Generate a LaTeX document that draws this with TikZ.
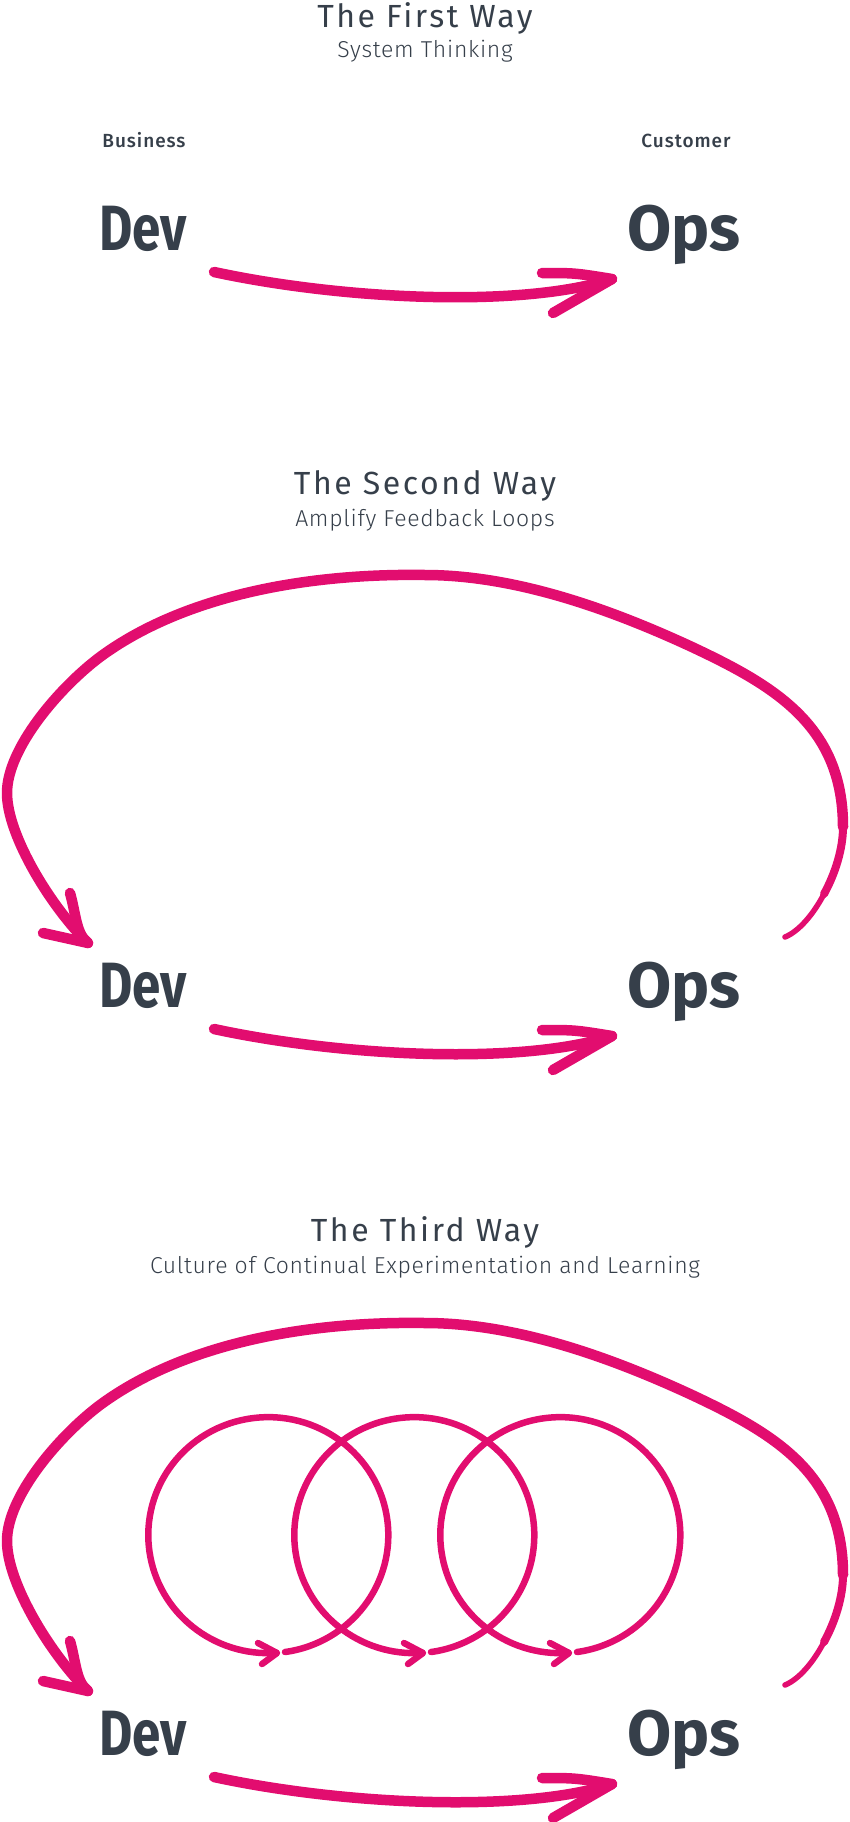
\documentclass[tikz,border=0pt]{standalone}
\usepackage{fontspec}
\setmainfont{Fira Sans}
\newfontfamily\titlefont{Fira Sans}[LetterSpace=8]
\newfontfamily\labelfont{Fira Sans Medium}[LetterSpace=5]
\newfontfamily\subfont{Fira Sans Light}[LetterSpace=3]
\definecolor{waypink}{HTML}{E20D6F}
\definecolor{wayslate}{HTML}{363F4A}
\tikzset{
  waytitle/.style={font=\titlefont\fontsize{32}{32}\selectfont, text=wayslate, anchor=base, inner sep=0pt},
  waysub/.style={font=\subfont\fontsize{23}{23}\selectfont, text=wayslate, anchor=base, inner sep=0pt},
  waylabel/.style={font=\labelfont\fontsize{19}{19}\selectfont, text=wayslate, anchor=base, inner sep=0pt},
  wayteam/.style={font=\bfseries\fontsize{64}{64}\selectfont, text=wayslate, anchor=base, inner sep=0pt},
  flow/.style={draw=waypink, line width=10.5pt, line cap=round, line join=round},
  loopline/.style={draw=waypink, line width=6.5pt, line cap=round, line join=round},
}
\begin{document}
\begin{tikzpicture}[x=1pt, y=-1pt]
	\useasboundingbox (0,0) rectangle (850,1822);

	\node[waytitle] (t1) at (425,28) {The First Way};
	\node[waysub] (s1) at (425,58) {System Thinking};
	\node[waytitle] (t2) at (425,494) {The Second Way};
	\node[waysub] (s2) at (425,526) {Amplify Feedback Loops};
	\node[waytitle] (t3) at (425,1241) {The Third Way};
	\node[waysub] (s3) at (425,1273) {Culture of Continual Experimentation and Learning};

	\node[waylabel] (biz) at (144,148) {Business};
	\node[waylabel] (cust) at (686,148) {Customer};

	\foreach \b/\n in {229/1, 986/2, 1734/3}{
		\node[wayteam] (dev\n) at (143,\b+21) {\scalebox{0.8}[1]{Dev}};
		\node[wayteam] (ops\n) at (684,\b+21) {Ops};
		\coordinate (out\n) at (214,\b+43);
		\coordinate (in\n) at (612,\b+50);
		\draw[flow] (out\n) .. controls +(130,28) and +(-90,29) .. (in\n);
		\draw[flow] (542,\b+44) .. controls (575,\b+44) .. (in\n) -- (553,\b+84);
	}

	\foreach \b in {986, 1734}{
		\coordinate (back\b) at (785,\b-49);
		\coordinate (tip\b) at (88,\b-43);
		\draw[flow, line width=5.5pt] (back\b) .. controls (798.5,\b-54.5) and (813,\b-71) .. (824,\b-92);
		\draw[flow, line width=8pt] (824,\b-92) .. controls (835,\b-112) and (843,\b-137) .. (843,\b-159);
		\draw[flow] (843,\b-159) .. controls (843,\b-260) and (775,\b-300) .. (692,\b-339)
			.. controls (610,\b-377) and (515,\b-411) .. (425,\b-411)
			.. controls (300,\b-413) and (180,\b-388) .. (100,\b-329)
			.. controls (60,\b-299) and (7,\b-238) .. (7,\b-193)
			.. controls (7,\b-150) and (52,\b-78) .. (tip\b);
		\draw[flow] (70,\b-93) .. controls (76,\b-72) and (76,\b-52) .. (tip\b) -- (43,\b-53);
	}

	\foreach \c in {268,414,560}{
		\coordinate (cyc\c) at (\c+17,1652);
		\draw[loopline] (cyc\c) arc[start angle=82, end angle=-274, x radius=120, y radius=118];
		\draw[loopline] (\c-10,1643) -- (\c+9,1653) -- (\c-6,1664);
	}
\end{tikzpicture}
\end{document}
